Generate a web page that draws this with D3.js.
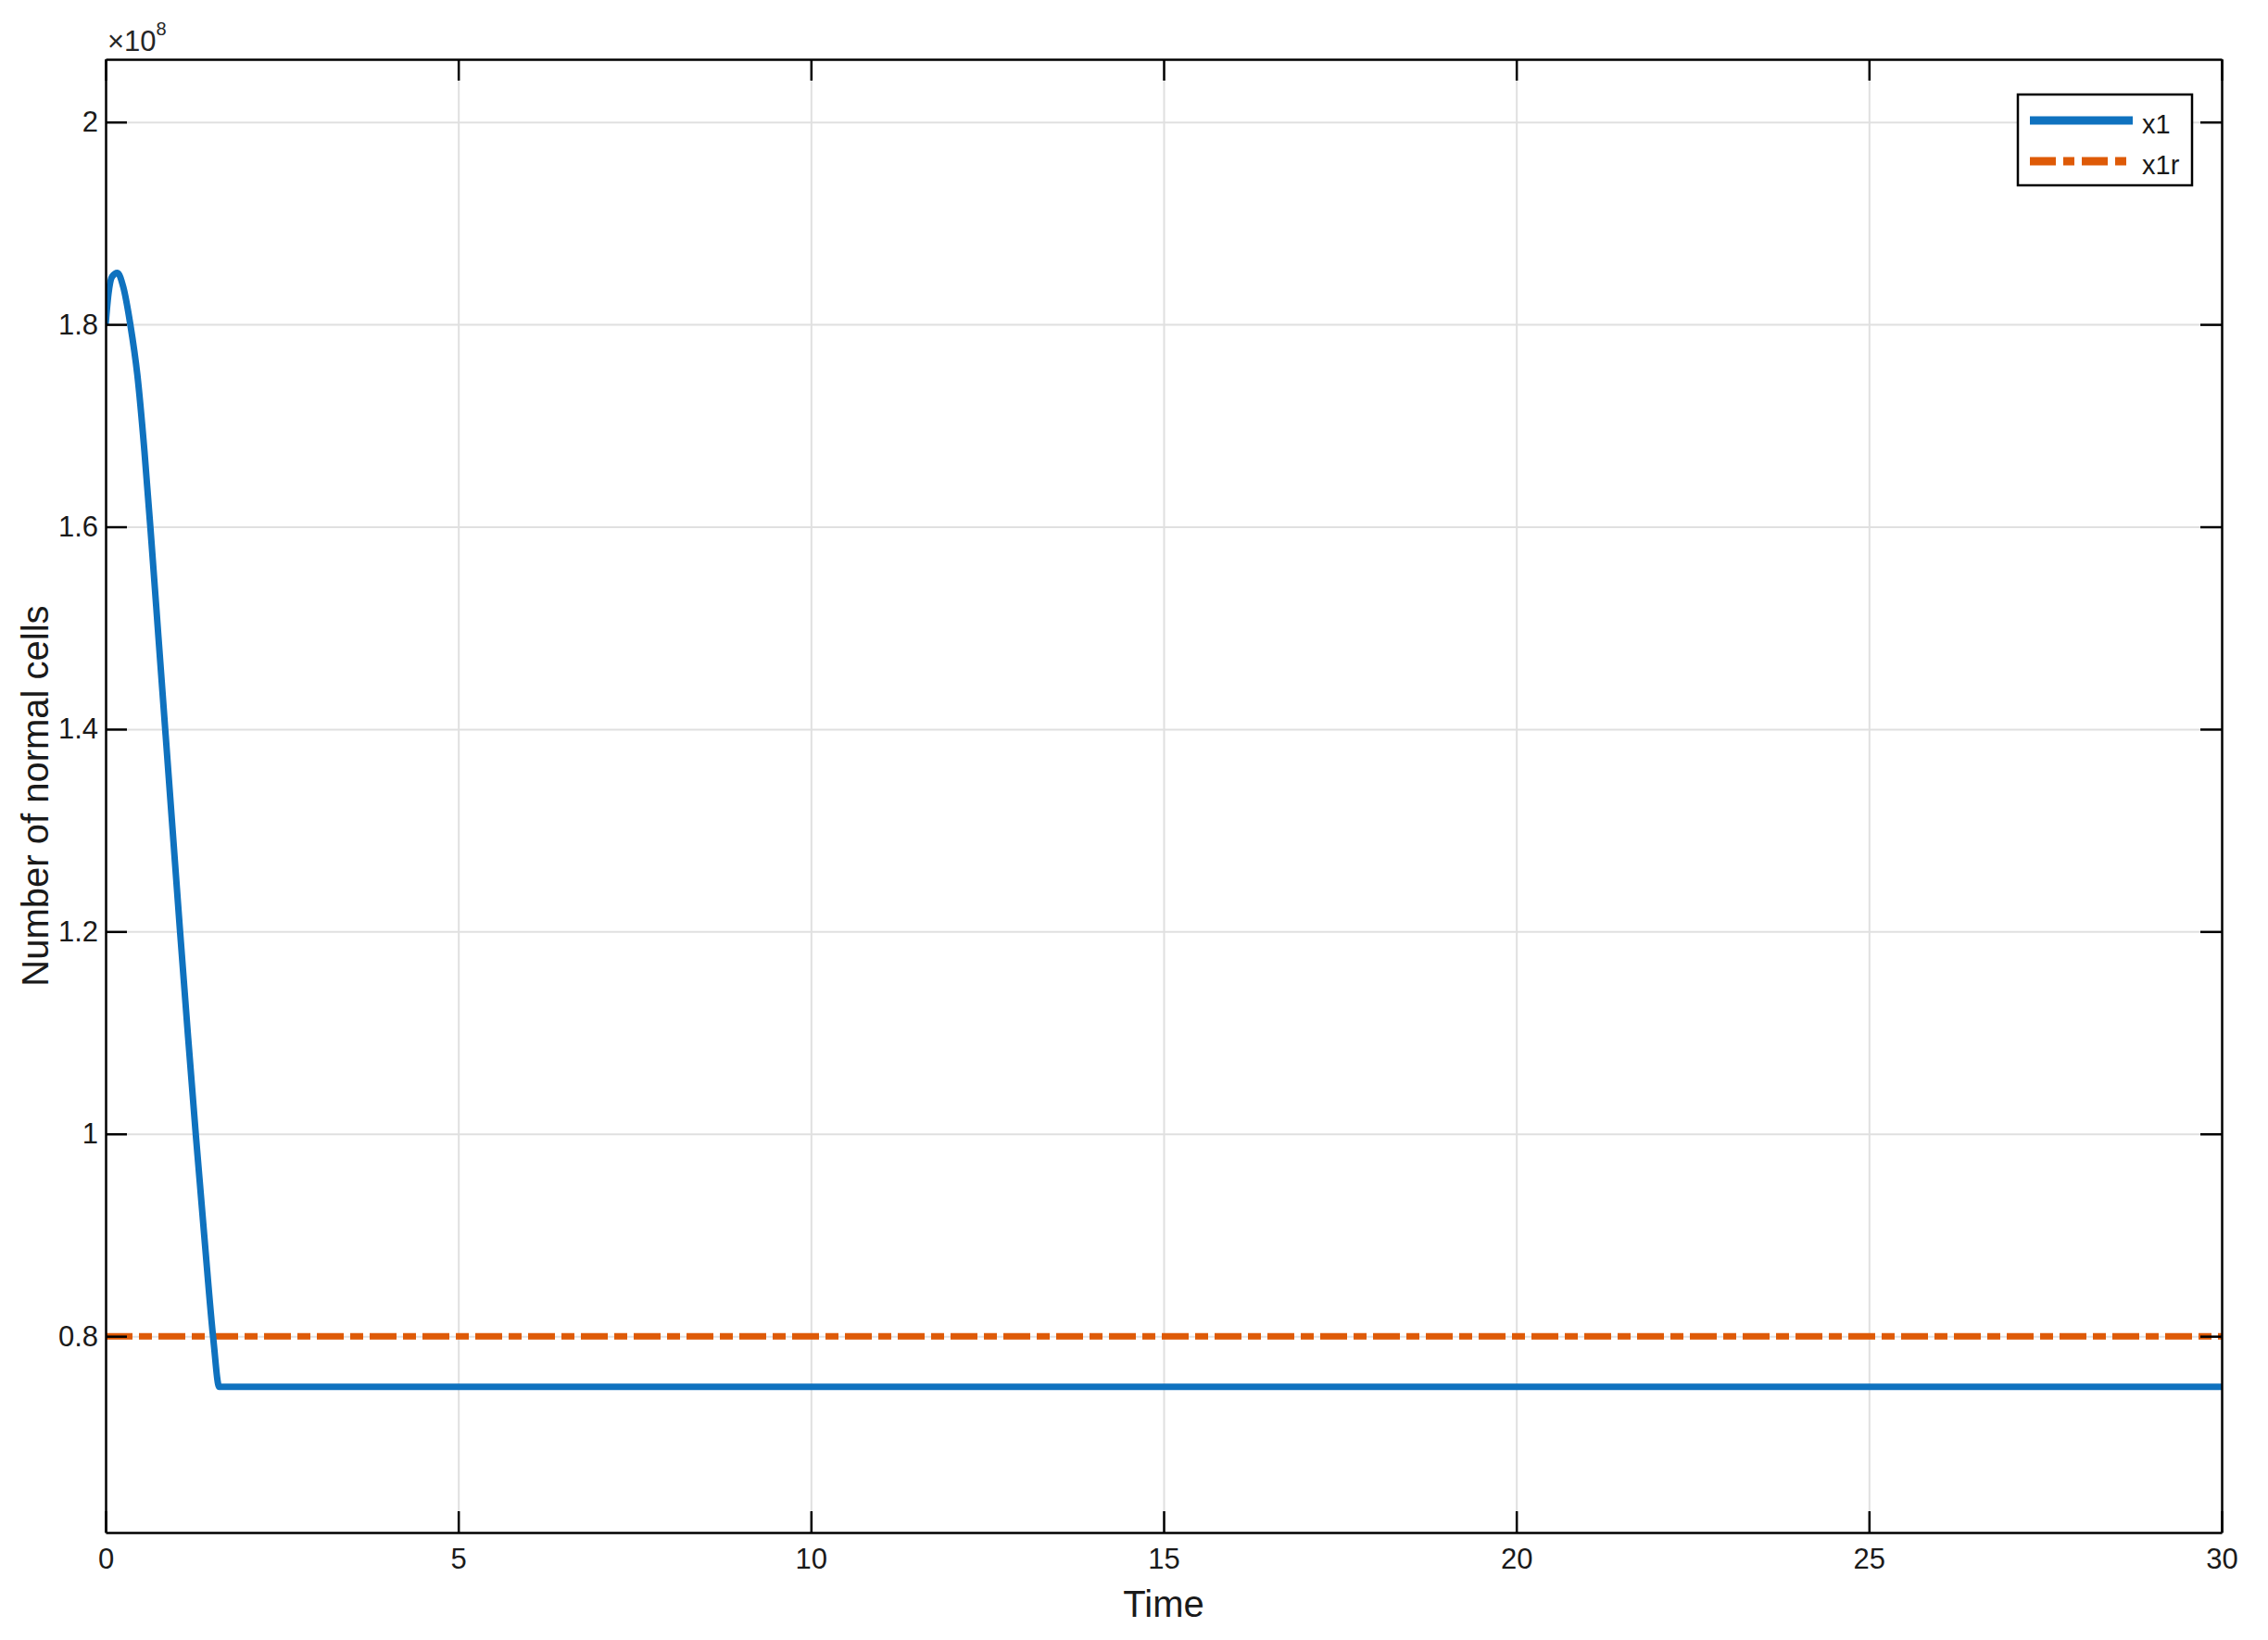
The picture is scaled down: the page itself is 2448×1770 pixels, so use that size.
<!DOCTYPE html>
<html>
<head>
<meta charset="utf-8">
<script src="https://cdn.jsdelivr.net/npm/d3@7"></script>
<style>
  body { margin: 0; background: #fff; }
  text { font-family: "Liberation Sans", Arial, sans-serif; }
</style>
</head>
<body>
<script>
// data (values in cells, time in days)
var timeX1 = [0, 0.04, 0.09, 0.167, 0.25, 0.35, 0.45, 0.55, 0.65, 0.75, 0.85, 0.95, 1.05, 1.17, 1.28, 1.4, 1.53, 1.61, 30]
var valuesX1 = [1.8e8, 1.83e8, 1.847e8, 1.851e8, 1.837e8, 1.8e8, 1.75e8, 1.675e8, 1.585e8, 1.49e8, 1.395e8, 1.3e8, 1.205e8, 1.095e8, 0.998e8, 0.898e8, 0.795e8, 0.75e8, 0.75e8]
var timeX1r = [0, 30]
var valuesX1r = [0.8e8, 0.8e8]
var xTicks = [0, 5, 10, 15, 20, 25, 30]
var yTicks = [0.8e8, 1e8, 1.2e8, 1.4e8, 1.6e8, 1.8e8, 2e8]
var seriesNames = ["x1", "x1r"]

var width = 2448,
    height = 1770;
var plotLeft = 114, plotRight = 2398, plotTop = 64, plotBottom = 1654;

var svg = d3.select("body").append("svg")
    .attr("width", width)
    .attr("height", height);

var x = d3.scaleLinear().domain([0, 30]).range([plotLeft, plotRight]);
var y = d3.scaleLinear().domain([0.606e8, 2.062e8]).range([plotBottom, plotTop]);

var blue = "#0F72BF", orange = "#DE5A07";
var fmt = function(d) { return String(+(d / 1e8).toFixed(1)) };

// grid
svg.append("g")
    .attr("transform", "translate(0," + plotBottom + ")")
    .call(d3.axisBottom(x).tickValues(xTicks.slice(1, -1)).tickSize(-(plotBottom - plotTop)).tickFormat(""))
    .call(function(g) { g.select(".domain").remove() })
    .selectAll("line").attr("stroke", "#e0e0e0").attr("stroke-width", 2);
svg.append("g")
    .attr("transform", "translate(" + plotLeft + ",0)")
    .call(d3.axisLeft(y).tickValues(yTicks).tickSize(-(plotRight - plotLeft)).tickFormat(""))
    .call(function(g) { g.select(".domain").remove() })
    .selectAll("line").attr("stroke", "#e0e0e0").attr("stroke-width", 2);

// lines
svg.append("clipPath").attr("id", "clip")
  .append("rect").attr("x", plotLeft).attr("y", plotTop)
  .attr("width", plotRight - plotLeft).attr("height", plotBottom - plotTop);

var line = d3.line()
    .x(function(d) { return x(d[0]) })
    .y(function(d) { return y(d[1]) });

svg.append("path")
    .datum(d3.zip(timeX1r, valuesX1r))
    .attr("clip-path", "url(#clip)")
    .attr("d", line)
    .attr("fill", "none")
    .attr("stroke", orange)
    .attr("stroke-width", 7)
    .attr("stroke-dasharray", "29,7,14,7");

svg.append("path")
    .datum(d3.zip(timeX1, valuesX1))
    .attr("clip-path", "url(#clip)")
    .attr("d", line.curve(d3.curveMonotoneX))
    .attr("fill", "none")
    .attr("stroke", blue)
    .attr("stroke-width", 7)
    .attr("stroke-linejoin", "round");

// axes, ticks pointing inward on all four sides
function styleAxis(g) {
  g.select(".domain").attr("stroke", "#000").attr("stroke-width", 2.5);
  g.selectAll(".tick line").attr("stroke", "#000").attr("stroke-width", 2.5);
  g.selectAll("text").attr("fill", "#1a1a1a").style("font-size", "31px");
}
svg.append("g")
    .attr("transform", "translate(0," + plotBottom + ")")
    .call(d3.axisBottom(x).tickValues(xTicks).tickSize(-23).tickSizeOuter(0).tickPadding(17).tickFormat(d3.format("d")))
    .call(styleAxis);
svg.append("g")
    .attr("transform", "translate(0," + plotTop + ")")
    .call(d3.axisTop(x).tickValues(xTicks).tickSize(-23).tickSizeOuter(0).tickFormat(""))
    .call(styleAxis);
svg.append("g")
    .attr("transform", "translate(" + plotLeft + ",0)")
    .call(d3.axisLeft(y).tickValues(yTicks).tickSize(-23).tickSizeOuter(0).tickPadding(8).tickFormat(fmt))
    .call(styleAxis);
svg.append("g")
    .attr("transform", "translate(" + plotRight + ",0)")
    .call(d3.axisRight(y).tickValues(yTicks).tickSize(-23).tickSizeOuter(0).tickFormat(""))
    .call(styleAxis);

// exponent
var expo = svg.append("text").attr("x", 116).attr("y", 55).attr("fill", "#262626").style("font-size", "31px");
expo.append("tspan").text("\u00d710");
expo.append("tspan").attr("dy", -17).style("font-size", "20px").text("8");

// axis labels
svg.append("text")
    .attr("x", (plotLeft + plotRight) / 2).attr("y", 1745)
    .attr("text-anchor", "middle")
    .style("font-size", "40px")
    .attr("fill", "#1a1a1a")
    .text("Time");
svg.append("text")
    .attr("transform", "translate(52," + (plotTop + plotBottom) / 2 + ") rotate(-90)")
    .attr("text-anchor", "middle")
    .style("font-size", "40px")
    .attr("fill", "#1a1a1a")
    .text("Number of normal cells");

// legend
var legend = svg.append("g");
legend.append("rect")
    .attr("x", 2178).attr("y", 102).attr("width", 188).attr("height", 98)
    .attr("fill", "#fff").attr("stroke", "#000").attr("stroke-width", 2.5);
var items = legend.selectAll("g.item").data(seriesNames).enter()
  .append("g").classed("item", true)
  .attr("transform", function(d, i) { return "translate(0," + (130 + i * 44) + ")" });
items.append("line")
    .attr("x1", 2191).attr("x2", 2302)
    .attr("stroke", function(d, i) { return i ? orange : blue })
    .attr("stroke-width", 9)
    .attr("stroke-dasharray", function(d, i) { return i ? "28,8,12,8" : null });
items.append("text")
    .attr("x", 2312).attr("y", 14)
    .style("font-size", "29px")
    .attr("fill", "#1a1a1a")
    .text(function(d) { return d });
</script>
</body>
</html>
